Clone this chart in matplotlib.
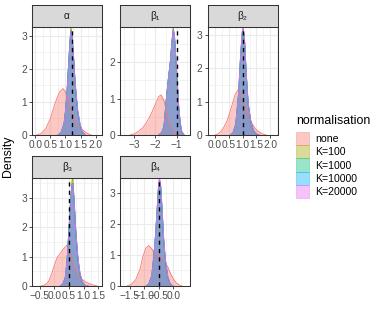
import matplotlib
matplotlib.use("Agg")
import matplotlib.pyplot as plt
from matplotlib.patches import Patch

plt.rcParams['font.family'] = ['Liberation Sans', 'DejaVu Sans']

groups = ["none", "K=100", "K=1000", "K=10000", "K=20000"]
colours = ["#F8766D", "#A3A500", "#00BF7D", "#00B0F6", "#E76BF3"]

# alpha
alpha_none_x = [0.05, 0.2, 0.35, 0.5, 0.65, 0.8, 0.92, 1.0, 1.1, 1.2, 1.3, 1.4, 1.5, 1.6, 1.7, 1.85]
alpha_none_y = [0.0, 0.05, 0.2, 0.5, 0.95, 1.3, 1.4, 1.3, 1.0, 0.7, 0.45, 0.32, 0.22, 0.13, 0.06, 0.0]
alpha_k_x = [0.75, 0.85, 0.95, 1.0, 1.05, 1.1, 1.15, 1.18, 1.22, 1.27, 1.32, 1.4, 1.48, 1.55, 1.65]
alpha_k100 = [0, 0.05, 0.3, 0.7, 1.3, 2.1, 2.9, 3.26, 3.0, 2.3, 1.5, 0.7, 0.3, 0.1, 0]
alpha_k1000 = [0, 0.06, 0.32, 0.72, 1.3, 2.1, 2.85, 3.15, 2.95, 2.3, 1.55, 0.72, 0.3, 0.1, 0]
alpha_k10000 = [0, 0.08, 0.35, 0.75, 1.32, 2.1, 2.85, 3.12, 2.92, 2.3, 1.55, 0.75, 0.32, 0.1, 0]
alpha_k20000 = [0, 0.05, 0.3, 0.7, 1.28, 2.05, 2.8, 3.12, 2.95, 2.35, 1.6, 0.8, 0.35, 0.12, 0]

# beta1
b1_none_x = [-3.2, -3.0, -2.8, -2.6, -2.4, -2.2, -2.0, -1.85, -1.74, -1.6, -1.5, -1.4, -1.3, -1.2, -1.05, -0.9]
b1_none_y = [0.0, 0.03, 0.1, 0.2, 0.36, 0.58, 0.85, 1.05, 1.1, 0.95, 0.7, 0.45, 0.25, 0.12, 0.03, 0.0]
b1_k_x = [-1.85, -1.7, -1.6, -1.5, -1.4, -1.3, -1.22, -1.16, -1.1, -1.03, -0.97, -0.9, -0.83, -0.76, -0.65]
b1_k100 = [0, 0.05, 0.2, 0.9, 1.5, 2.0, 2.6, 2.96, 2.7, 2.0, 1.4, 0.7, 0.3, 0.08, 0]
b1_k1000 = [0, 0.08, 0.25, 0.92, 1.5, 2.0, 2.55, 2.9, 2.68, 2.0, 1.42, 0.72, 0.3, 0.08, 0]
b1_k10000 = [0, 0.07, 0.22, 0.9, 1.48, 2.0, 2.55, 2.88, 2.68, 2.02, 1.44, 0.74, 0.32, 0.09, 0]
b1_k20000 = [0, 0.05, 0.2, 0.88, 1.47, 1.98, 2.55, 2.9, 2.7, 2.05, 1.48, 0.8, 0.36, 0.11, 0]

# beta2
b2_none_x = [0.0, 0.15, 0.3, 0.45, 0.6, 0.72, 0.83, 0.95, 1.05, 1.15, 1.25, 1.35, 1.45, 1.55, 1.7, 1.85]
b2_none_y = [0.0, 0.05, 0.2, 0.45, 0.85, 1.2, 1.35, 1.2, 0.95, 0.7, 0.5, 0.33, 0.2, 0.12, 0.04, 0.0]
b2_k_x = [0.55, 0.65, 0.75, 0.85, 0.92, 0.98, 1.02, 1.07, 1.13, 1.2, 1.3, 1.4, 1.5, 1.6]
b2_k100 = [0, 0.05, 0.3, 1.2, 2.3, 3.05, 3.2, 2.8, 1.8, 0.9, 0.35, 0.12, 0.03, 0]
b2_k1000 = [0, 0.06, 0.32, 1.2, 2.28, 3.02, 3.18, 2.8, 1.82, 0.92, 0.36, 0.12, 0.03, 0]
b2_k10000 = [0, 0.07, 0.34, 1.22, 2.28, 3.0, 3.17, 2.8, 1.84, 0.94, 0.38, 0.13, 0.03, 0]
b2_k20000 = [0, 0.05, 0.3, 1.18, 2.3, 3.1, 3.24, 2.85, 1.88, 0.98, 0.4, 0.14, 0.04, 0]

# beta3
b3_none_x = [-0.45, -0.3, -0.2, -0.1, 0.0, 0.1, 0.18, 0.3, 0.42, 0.52, 0.6, 0.7, 0.8, 0.9, 1.0, 1.1, 1.2, 1.3, 1.45]
b3_none_y = [0.0, 0.05, 0.15, 0.4, 0.7, 0.98, 1.08, 1.25, 1.38, 1.2, 0.9, 0.6, 0.4, 0.28, 0.18, 0.12, 0.08, 0.04, 0.0]
b3_k_x = [0.2, 0.3, 0.38, 0.44, 0.5, 0.55, 0.6, 0.63, 0.67, 0.73, 0.8, 0.87, 0.95, 1.05, 1.15]
b3_k100 = [0, 0.05, 0.3, 1.0, 2.0, 2.9, 3.6, 3.67, 2.95, 1.8, 0.9, 0.4, 0.12, 0.02, 0]
b3_k1000 = [0, 0.06, 0.32, 1.02, 2.0, 2.85, 3.45, 3.5, 2.9, 1.8, 0.92, 0.4, 0.12, 0.02, 0]
b3_k10000 = [0, 0.1, 0.35, 1.05, 2.0, 2.85, 3.4, 3.45, 2.9, 1.82, 0.94, 0.42, 0.13, 0.02, 0]
b3_k20000 = [0, 0.05, 0.3, 1.0, 1.95, 2.8, 3.4, 3.48, 2.95, 1.88, 1.0, 0.46, 0.15, 0.03, 0]

# beta4
b4_none_x = [-1.6, -1.45, -1.3, -1.15, -1.05, -0.95, -0.85, -0.75, -0.65, -0.5, -0.35, -0.2, -0.1, 0.0, 0.1, 0.2, 0.3]
b4_none_y = [0.0, 0.05, 0.2, 0.55, 0.95, 1.22, 1.3, 1.2, 1.05, 0.95, 0.85, 0.62, 0.4, 0.22, 0.1, 0.03, 0.0]
b4_k_x = [-0.95, -0.85, -0.75, -0.68, -0.62, -0.56, -0.51, -0.48, -0.44, -0.39, -0.34, -0.28, -0.2, -0.12, -0.02]
b4_k100 = [0, 0.05, 0.3, 0.9, 1.6, 2.5, 3.3, 3.42, 3.2, 2.4, 1.5, 0.8, 0.3, 0.08, 0]
b4_k1000 = [0, 0.06, 0.32, 0.92, 1.6, 2.48, 3.25, 3.4, 3.18, 2.42, 1.52, 0.82, 0.3, 0.08, 0]
b4_k10000 = [0, 0.07, 0.34, 0.94, 1.62, 2.48, 3.22, 3.38, 3.18, 2.42, 1.54, 0.84, 0.32, 0.09, 0]
b4_k20000 = [0, 0.05, 0.3, 0.88, 1.58, 2.5, 3.32, 3.47, 3.25, 2.5, 1.6, 0.88, 0.35, 0.1, 0]

true_values = [1.2, -1.0, 1.0, 0.5, -0.5]
titles = ["α", "β₁", "β₂", "β₃", "β₄"]

panels = [
    (alpha_none_x, alpha_none_y, alpha_k_x, [alpha_k100, alpha_k1000, alpha_k10000, alpha_k20000]),
    (b1_none_x, b1_none_y, b1_k_x, [b1_k100, b1_k1000, b1_k10000, b1_k20000]),
    (b2_none_x, b2_none_y, b2_k_x, [b2_k100, b2_k1000, b2_k10000, b2_k20000]),
    (b3_none_x, b3_none_y, b3_k_x, [b3_k100, b3_k1000, b3_k10000, b3_k20000]),
    (b4_none_x, b4_none_y, b4_k_x, [b4_k100, b4_k1000, b4_k10000, b4_k20000]),
]

# axis setup, pixel boxes (left, top, right, bottom)
boxes = [(32, 27, 102, 135), (120, 27, 190, 135), (207.5, 27, 277.5, 135),
         (32, 178, 102, 286), (120, 178, 190, 286)]
xlims = [(-0.11, 2.21), (-3.67, -0.37), (-0.27, 2.26), (-0.76, 1.62), (-1.84, 0.57)]
xticks = [[0.0, 0.5, 1.0, 1.5, 2.0], [-3, -2, -1], [0.0, 0.5, 1.0, 1.5, 2.0],
          [-0.5, 0.0, 0.5, 1.0, 1.5], [-1.5, -1.0, -0.5, 0.0]]
xlabels = [["0.0", "0.5", "1.0", "1.5", "2.0"], ["\u22123", "\u22122", "\u22121"],
           ["0.0", "0.5", "1.0", "1.5", "2.0"], ["\u22120.5", "0.0", "0.5", "1.0", "1.5"],
           ["\u22121.5", "\u22121.0", "\u22120.5", "0.0"]]
yticks = [[0, 1, 2, 3], [0, 1, 2], [0, 1, 2, 3], [0, 1, 2, 3], [0, 1, 2, 3]]

W, H = 382, 322
fig = plt.figure(figsize=(W / 100, H / 100), dpi=100)


def minors(ticks, lim):
    step = ticks[1] - ticks[0]
    out = []
    t = ticks[0] - step / 2
    while t < lim[1]:
        if t > lim[0]:
            out.append(t)
        t += step
    return out


for i, (nx, ny, kx, ks) in enumerate(panels):
    l, t, r, b = boxes[i]
    ax = fig.add_axes([l / W, 1 - b / H, (r - l) / W, (b - t) / H])
    ymax = max(max(ny), max(max(k) for k in ks))
    ax.set_xlim(xlims[i])
    ax.set_ylim(0, ymax)
    for v in xticks[i]:
        ax.axvline(v, color="#EBEBEB", lw=0.8, zorder=0)
    for v in minors(xticks[i], xlims[i]):
        ax.axvline(v, color="#EBEBEB", lw=0.4, zorder=0)
    for v in yticks[i]:
        ax.axhline(v, color="#EBEBEB", lw=0.8, zorder=0)
    for v in minors(yticks[i], (0, ymax)):
        ax.axhline(v, color="#EBEBEB", lw=0.4, zorder=0)

    series = [(nx, ny)] + [(kx, k) for k in ks]
    for (sx, sy), c in zip(series, colours):
        ax.fill_between(sx, 0, sy, color=c, alpha=0.4, lw=0, zorder=2)
        ax.plot(sx, sy, color=c, lw=0.6, zorder=3)
    ax.axvline(true_values[i], color="black", lw=1.0, ls=(0, (3, 3)), zorder=4)

    ax.set_xticks(xticks[i])
    ax.set_xticklabels(xlabels[i])
    ax.set_yticks(yticks[i])
    ax.tick_params(length=2.2, width=0.6, color="#333333", labelsize=7.3,
                   labelcolor="#4D4D4D", pad=1.5)
    for s in ax.spines.values():
        s.set_color("#333333")
        s.set_linewidth(0.75)

    # strip
    sa = fig.add_axes([l / W, 1 - t / H, (r - l) / W, 22 / H])
    sa.set_facecolor("#D9D9D9")
    sa.set_xticks([])
    sa.set_yticks([])
    for s in sa.spines.values():
        s.set_color("#333333")
        s.set_linewidth(0.75)
    sa.text(0.5, 0.5, titles[i], ha="center", va="center", fontsize=7.3,
            color="#1A1A1A", transform=sa.transAxes)

fig.text(8 / W, 1 - 156 / H, "Density", rotation=90, ha="center", va="center",
         fontsize=8.9, color="black")

fig.text(296 / W, 1 - 120.5 / H, "normalisation", ha="left", va="center",
         fontsize=8.9, color="black")
handles = [Patch(facecolor=c, edgecolor=c, alpha=0.4, lw=0.6) for c in colours]
leg = fig.legend(handles, groups, loc="upper left", bbox_to_anchor=(296 / W, 1 - 132 / H),
                 frameon=False, fontsize=7.6, handlelength=1.2, handleheight=1.55,
                 labelspacing=0.0, handletextpad=0.6, borderpad=0.0, borderaxespad=0.0)

fig.savefig("out.png", dpi=100)
